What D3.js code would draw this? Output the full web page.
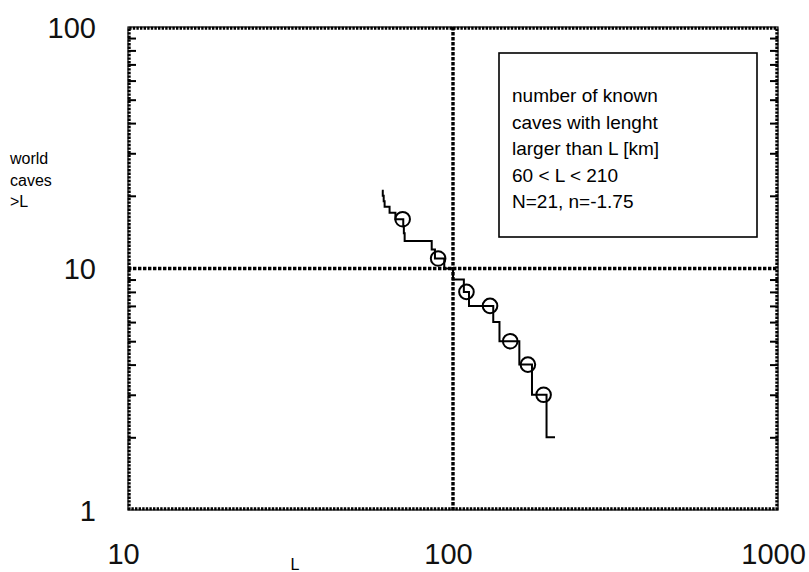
<!DOCTYPE html>
<html>
<head>
<meta charset="utf-8">
<script src="https://cdn.jsdelivr.net/npm/d3@7"></script>
<style>
  html, body { margin: 0; padding: 0; background: #fff; }
  svg { display: block; font-family: "Liberation Sans", Arial, sans-serif; }
</style>
</head>
<body>
<svg id="chart" width="809" height="572"></svg>
<script>
// Cave lengths (km) at which the cumulative count drops by one
const caveLengths = [60.8, 61.2, 61.6, 63.8, 66.5, 70.3, 70.6, 71, 86, 88, 94, 100, 108, 112, 133, 139, 160, 175, 194];
const rangeStart = 60.4;   // lower end of the fitted range
const rangeEnd = 206;      // upper end of the fitted range
const countAtStart = 21;   // caves longer than rangeStart

// Sampled counts N(>L), marked with circles
const sampleL = [70, 90, 110, 130, 150, 170, 190];
const sampleN = [16, 11, 8, 7, 5, 4, 3];

// Axis ticks
const xTickValues = [10, 100, 1000];
const xTickLabels = ["10", "100", "1000"];
const yTickValues = [1, 10, 100];
const yTickLabels = ["1", "10", "100"];
const yMinorTicks = [2, 3, 4, 5, 6, 7, 8, 9, 20, 30, 40, 50, 60, 70, 80, 90];

const legendLines = ["number of known", "caves with lenght", "larger than L [km]", "60 < L < 210", "N=21, n=-1.75"];
const yTitleLines = ["world", "caves", ">L"];

const svg = d3.select("#chart");
const plot = { left: 128, right: 778, top: 27, bottom: 510 };

const x = d3.scaleLog().domain([10, 1000]).range([plot.left, plot.right]);
const y = d3.scaleLog().domain([1, 100]).range([plot.bottom, plot.top]);

// Minor ticks on both vertical sides, pointing inward
svg.append("g")
  .attr("transform", `translate(${plot.left},0)`)
  .call(d3.axisLeft(y).tickValues(yMinorTicks).tickSize(-8).tickFormat(""))
  .call(g => g.select(".domain").remove())
  .call(g => g.selectAll("line").attr("stroke", "#000").attr("stroke-width", 2));
svg.append("g")
  .attr("transform", `translate(${plot.right},0)`)
  .call(d3.axisRight(y).tickValues(yMinorTicks).tickSize(-8).tickFormat(""))
  .call(g => g.select(".domain").remove())
  .call(g => g.selectAll("line").attr("stroke", "#000").attr("stroke-width", 2));

// Dotted grid lines at the decades
svg.append("line")
  .attr("x1", x(100)).attr("x2", x(100))
  .attr("y1", plot.top).attr("y2", plot.bottom)
  .attr("stroke", "#000").attr("stroke-width", 3.4).attr("stroke-dasharray", "3.4,1.6");
svg.append("line")
  .attr("x1", plot.left).attr("x2", plot.right)
  .attr("y1", y(10)).attr("y2", y(10))
  .attr("stroke", "#000").attr("stroke-width", 3.4).attr("stroke-dasharray", "3.4,1.6");

// Dotted frame
const frame = svg.append("g");
frame.append("rect")
  .attr("x", plot.left).attr("y", plot.top)
  .attr("width", plot.right - plot.left).attr("height", plot.bottom - plot.top)
  .attr("fill", "none").attr("stroke", "#000").attr("stroke-width", 1.2);
frame.append("rect")
  .attr("x", plot.left + 1.2).attr("y", plot.top + 1.2)
  .attr("width", plot.right - plot.left - 2.4).attr("height", plot.bottom - plot.top - 2.4)
  .attr("fill", "none").attr("stroke", "#000").attr("stroke-width", 3)
  .attr("stroke-dasharray", "2.4,1.2");

// Tick labels
svg.append("g")
  .attr("transform", `translate(0,${plot.bottom})`)
  .call(d3.axisBottom(x).tickValues(xTickValues).tickSize(0)
    .tickFormat((d, i) => xTickLabels[i]))
  .call(g => g.select(".domain").remove())
  .call(g => g.selectAll("text")
    .attr("font-family", "Liberation Sans, Arial, sans-serif")
    .attr("font-size", 29).attr("fill", "#111")
    .attr("dx", -5).attr("dy", 0).attr("y", 54));

svg.append("g")
  .attr("transform", `translate(${plot.left},0)`)
  .call(d3.axisLeft(y).tickValues(yTickValues).tickSize(0)
    .tickFormat((d, i) => yTickLabels[i]))
  .call(g => g.select(".domain").remove())
  .call(g => g.selectAll("text")
    .attr("font-family", "Liberation Sans, Arial, sans-serif")
    .attr("font-size", 29).attr("fill", "#111")
    .attr("x", -32).attr("dy", "0.36em"));

// Staircase of cumulative counts
const steps = [{ L: rangeStart, N: countAtStart }]
  .concat(caveLengths.map((L, i) => ({ L, N: countAtStart - (i + 1) })));
steps.push({ L: rangeEnd, N: steps[steps.length - 1].N });

svg.append("path")
  .datum(steps)
  .attr("fill", "none").attr("stroke", "#000").attr("stroke-width", 2)
  .attr("d", d3.line().x(d => x(d.L)).y(d => y(d.N)).curve(d3.curveStepAfter));

// Circle markers
svg.append("g").selectAll("circle")
  .data(sampleL.map((L, i) => ({ L, N: sampleN[i] })))
  .join("circle")
  .attr("cx", d => x(d.L)).attr("cy", d => y(d.N)).attr("r", 7.3)
  .attr("fill", "none").attr("stroke", "#000").attr("stroke-width", 2);

// Legend box
const legend = svg.append("g");
legend.append("rect")
  .attr("x", 499).attr("y", 53).attr("width", 258).attr("height", 184)
  .attr("fill", "#fff").attr("stroke", "#000").attr("stroke-width", 1.6);
legend.selectAll("text")
  .data(legendLines)
  .join("text")
  .attr("x", 512).attr("y", (d, i) => 102 + i * 26.5)
  .attr("font-size", 19).attr("fill", "#000")
  .text(d => d);

// Axis titles
svg.append("g").selectAll("text")
  .data(yTitleLines)
  .join("text")
  .attr("x", 10).attr("y", (d, i) => 164 + i * 21.5)
  .attr("font-size", 16).attr("fill", "#000")
  .text(d => d);

svg.append("text")
  .attr("x", 295).attr("y", 570).attr("text-anchor", "middle")
  .attr("font-size", 16).attr("fill", "#000")
  .text("L");
</script>
</body>
</html>
